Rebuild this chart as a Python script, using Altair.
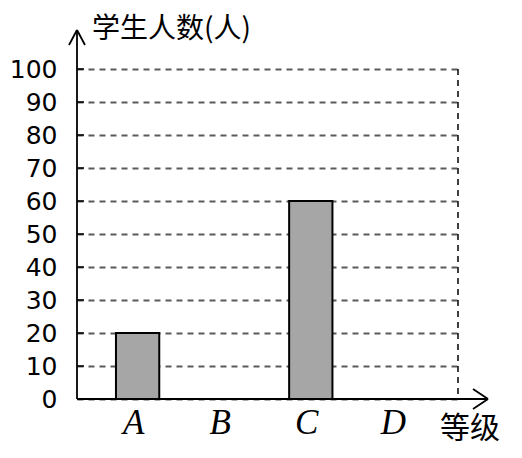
import altair as alt
import pandas as pd

grades = ["A", "B", "C", "D"]
counts = [20, 0, 60, 0]
y_ticks = list(range(0, 101, 10))
y_title = "学生人数(人)"
x_title = "等级"

df = pd.DataFrame({"grade": grades, "count": counts})
ticks_df = pd.DataFrame({"v": y_ticks})

W, H = 381, 330

x_scale = alt.Scale(domain=grades, paddingInner=0.5, paddingOuter=0.45)
y_scale = alt.Scale(domain=[0, 100], nice=False)

y_axis_def = alt.Axis(title=None, values=y_ticks, labelFont="DejaVu Sans",
                      labelFontSize=25, labelColor="black", ticks=False, domain=False,
                      labelPadding=20, labelOverlap=False, labelFlush=False,
                      grid=True, gridDash=[6, 5], gridColor="#5a5a5a", gridWidth=2)

bars = alt.Chart(df).mark_bar(fill="#a6a6a6", stroke="black", strokeWidth=2).encode(
    x=alt.X("grade:N", scale=x_scale, sort=grades,
            axis=alt.Axis(title=None, labelAngle=0, labelFont="Liberation Serif",
                          labelFontStyle="italic", labelFontSize=35, labelColor="black",
                          ticks=False, domain=False, labelPadding=6, labelOffset=-4,
                          grid=False, labelOverlap=False)),
    y=alt.Y("count:Q", scale=y_scale, axis=y_axis_def),
)

tick_marks = alt.Chart(ticks_df).mark_rule(color="black", strokeWidth=1.5).encode(
    y=alt.Y("v:Q", scale=y_scale, axis=y_axis_def), x=alt.value(0), x2=alt.value(7)
)

one = alt.Data(values=[{}])

def seg(x1, y1, x2, y2, **kw):
    return alt.Chart(one).mark_rule(color="black", strokeWidth=kw.get("w", 1.8),
                                    **({"strokeDash": kw["dash"]} if "dash" in kw else {})).encode(
        x=alt.value(x1), y=alt.value(y1), x2=alt.value(x2), y2=alt.value(y2))

right_border = seg(W, 0, W, H, dash=[6, 5], w=1.5)
y_axis = seg(0, H, 0, -39)
y_arr1 = seg(-8, -24, 0, -39)
y_arr2 = seg(8, -24, 0, -39)
x_axis = seg(0, H, 411, H)
x_arr1 = seg(396, H - 10, 411, H)
x_arr2 = seg(396, H + 10, 411, H)

title_txt = alt.Chart(one).mark_text(text=y_title, align="left", baseline="middle",
                                     font="Noto Sans CJK SC", fontSize=28, color="black").encode(
    x=alt.value(15), y=alt.value(-39))
xlab_txt = alt.Chart(one).mark_text(text=x_title, align="left", baseline="middle",
                                    font="Noto Sans CJK SC", fontSize=30, color="black").encode(
    x=alt.value(363), y=alt.value(360))

chart = alt.layer(
    bars, tick_marks, right_border, y_axis, y_arr1, y_arr2, x_axis, x_arr1, x_arr2,
    title_txt, xlab_txt
).properties(
    width=W, height=H, autosize="none",
    padding={"left": 69, "top": 61, "right": 55, "bottom": 50},
).configure_view(stroke=None)

chart.save("out.html", embed_options={"renderer": "svg", "actions": False})
